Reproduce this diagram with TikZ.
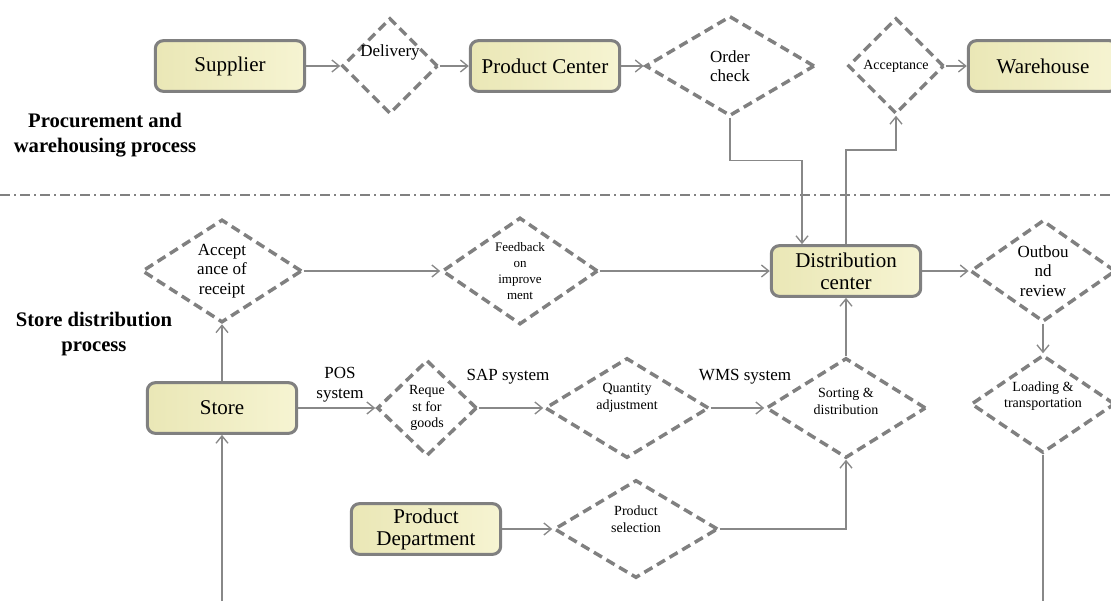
\documentclass[tikz,border=0pt]{standalone}
\usepackage{fontspec}
\setmainfont{Liberation Serif}
\usepackage{tikz}
\usetikzlibrary{arrows.meta, shapes.geometric}

\definecolor{boxlight}{RGB}{246,244,210}
\definecolor{boxdark}{RGB}{234,231,182}
\definecolor{edgegray}{RGB}{128,128,128}
\definecolor{linegray}{RGB}{136,136,136}

\tikzset{
  box/.style={rectangle, rounded corners=6pt, draw=edgegray, line width=2.3pt,
    left color=boxdark, right color=boxlight, minimum width=112pt, minimum height=38pt,
    inner sep=1pt, align=center, font=\fontsize{15.75}{16.5}\selectfont},
  dia/.style={diamond, draw=edgegray, line width=2.6pt, dash pattern=on 7pt off 4pt,
    inner sep=0pt, align=center, font=\fontsize{12.75}{14.5}\selectfont},
  smalltxt/.style={font=\fontsize{10.5}{12.5}\selectfont},
  arr/.style={draw=linegray, line width=1pt, -{Straight Barb[length=5.5pt,width=9pt]}},
  conn/.style={draw=linegray, line width=1pt},
  lbl/.style={align=center, font=\fontsize{12.75}{15}\selectfont},
  head/.style={align=center, font=\bfseries\fontsize{15.5}{19}\selectfont}
}

\begin{document}
\begin{tikzpicture}[x=0.75pt, y=-0.75pt]
\useasboundingbox (0,0) rectangle (1111,601);

% Procurement row
\node[box] (sup) at (230,66) {Supplier};
\node[dia, minimum width=72pt, minimum height=72pt,
  label={[name=deliv-t, lbl, yshift=10pt]center:Delivery}] (deliv) at (390,66) {};
\node[box] (pc) at (545,66) {Product Center};
\node[dia, minimum width=127pt, minimum height=75pt] (ordchk) at (730,66) {Order\\check};
\node[dia, smalltxt, minimum width=72pt, minimum height=72pt] (accpt) at (896,66) {Acceptance};
\node[box] (wh) at (1043,66) {Warehouse};

\node[head] (proc) at (105,135) {Procurement and\\warehousing process};

% Separator
\draw[edgegray, line width=0.9pt, dash pattern=on 7.5pt off 3pt on 1.5pt off 3pt] (0,195) -- (1111,195);

\node[head] (storeproc) at (94,334) {Store distribution\\process};

% Distribution row
\node[dia, minimum width=120pt, minimum height=73.5pt] (accrec) at (222,271) {Accept\\ance of\\receipt};
\node[dia, font=\fontsize{9.75}{12}\selectfont, minimum width=117pt, minimum height=75pt] (feedb) at (520,271) {Feedback\\on\\improve\\ment};
\node[box] (dc) at (846,271) {Distribution\\center};
\node[dia, minimum width=109pt, minimum height=72pt] (outb) at (1043,271) {Outbou\\nd\\review};

\node[box] (store) at (222,408) {Store};
\node[dia, font=\fontsize{10.5}{12.5}\selectfont, minimum width=75pt, minimum height=72pt] (reqg) at (427,408) {Reque\\st for\\goods};
\node[dia, minimum width=123pt, minimum height=75pt,
  label={[name=qty-t, smalltxt, align=center, yshift=7.5pt]center:Quantity\\adjustment}] (qty) at (627,408) {};
\node[dia, minimum width=120pt, minimum height=75pt,
  label={[name=sort-t, smalltxt, align=center, yshift=5pt]center:Sorting \&\\distribution}] (sort) at (846,408) {};
\node[dia, minimum width=108pt, minimum height=73.5pt,
  label={[name=load-t, smalltxt, align=center, yshift=6pt]center:Loading \&\\transportation}] (load) at (1043,404) {};

\node[box] (pd) at (426,529) {Product\\Department};
\node[dia, minimum width=123pt, minimum height=73.5pt,
  label={[name=psel-t, smalltxt, align=center, yshift=7.5pt]center:Product\\selection}] (psel) at (636,529) {};

\node[lbl] (pos) at (340,385) {POS\\system};
\node[lbl] (sap) at (508,377) {SAP system};
\node[lbl] (wms) at (745,377) {WMS system};

\coordinate (storein) at (222,601);
\coordinate (loadout) at (1043,601);

% Connectors
\draw[arr] (sup.east) -- (deliv.west);
\draw[arr] (deliv.east) -- (pc.west);
\draw[arr] (pc.east) -- (ordchk.west);
\draw[arr] (accpt.east) -- (wh.west);
\draw[arr] (ordchk.south) -- ++(0,43) -| ([xshift=-33pt]dc.north);
\draw[arr] (dc.north) -- ++(0,-94) -| (accpt.south);

\draw[arr] (accrec.east) -- (feedb.west);
\draw[arr] (feedb.east) -- (dc.west);
\draw[arr] (dc.east) -- (outb.west);
\draw[arr] (outb.south) -- (load.north);
\draw[conn] (load.south) -- (loadout);

\draw[arr] (storein) -- (store.south);
\draw[arr] (store.north) -- (accrec.south);
\draw[arr] (store.east) -- (reqg.west);
\draw[arr] (reqg.east) -- (qty.west);
\draw[arr] (qty.east) -- (sort.west);
\draw[arr] (sort.north) -- (dc.south);
\draw[arr] (pd.east) -- (psel.west);
\draw[arr] (psel.east) -| (sort.south);
\end{tikzpicture}
\end{document}
